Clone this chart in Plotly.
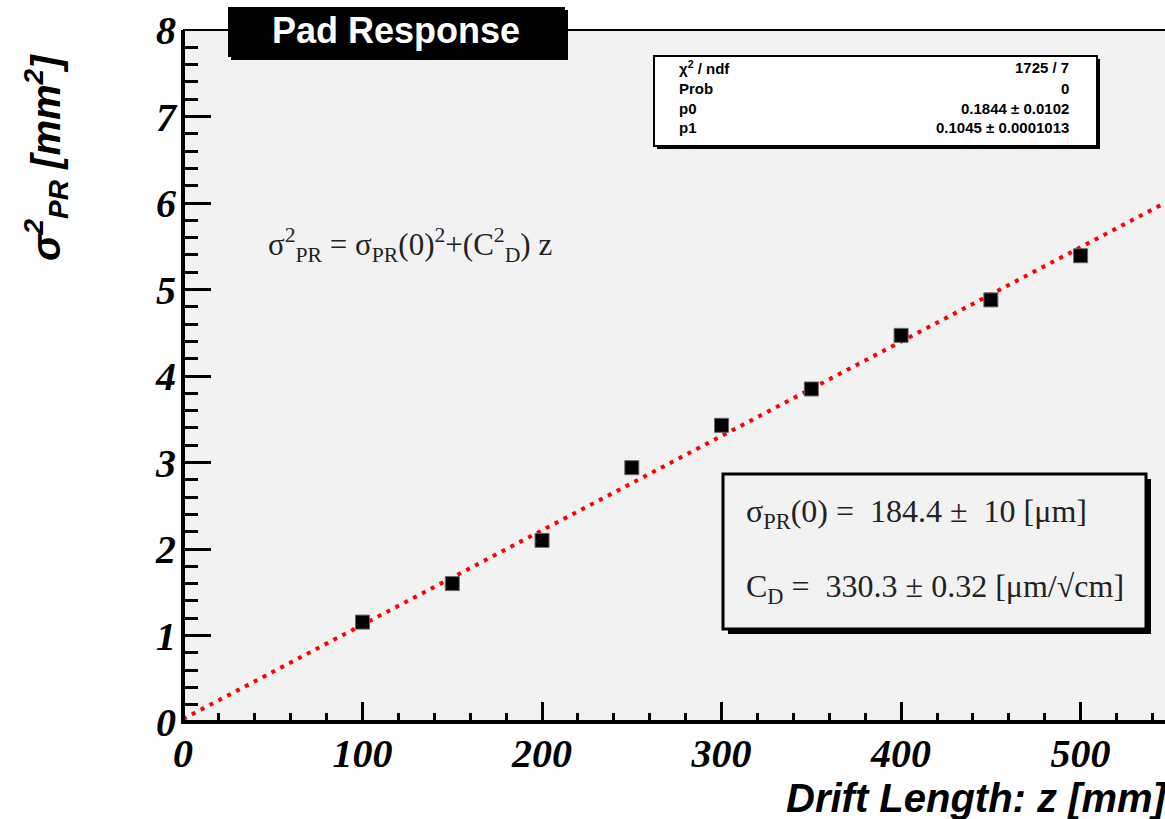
import numpy as np
import plotly.graph_objects as go

# Measured pad-response width squared versus drift length
drift_mm = [100, 150, 200, 250, 300, 350, 400, 450, 500]
sigma2_mm2 = [1.155, 1.60, 2.10, 2.94, 3.43, 3.85, 4.47, 4.88, 5.39]

# Fit results
sigma0_um = 184.4
sigma0_err_um = 10
cd_um = 330.3
cd_err_um = 0.32
chi2_ndf = "1725 / 7"
prob = "0"
p0_txt = "0.1844 ± 0.0102"
p1_txt = "0.1045 ± 0.0001013"

x_range = [0, 547]
y_range = [0, 8]

W_FIG, H_FIG = 1165, 819
L, T, R, B = 183, 30, 0, 97
PW = W_FIG - L - R
PH = H_FIG - T - B


def px(xp):
    return (xp - L) / PW


def py(yp):
    return (H_FIG - B - yp) / PH


# Fit line: sigma^2 = sigma0^2 + C_D^2 * z  (sigma in mm, C_D in mm/sqrt(cm), z in cm)
z_line = np.linspace(x_range[0], x_range[1], 200)
fit_line = (sigma0_um / 1000) ** 2 + (cd_um / 1000) ** 2 * z_line / 10

fig = go.Figure()
fig.add_trace(go.Scatter(
    x=z_line, y=fit_line, mode="lines",
    line=dict(color="#ff0000", width=4, dash="4px,6px"),
    hoverinfo="skip", showlegend=False,
))
fig.add_trace(go.Scatter(
    x=drift_mm, y=sigma2_mm2, mode="markers",
    marker=dict(symbol="square", size=14, color="black",
                line=dict(color="#666666", width=1)),
    showlegend=False,
))

tick_font = dict(family="Liberation Serif", size=40, color="black",
                 weight="bold", style="italic")

fig.update_xaxes(
    range=x_range, dtick=100, tick0=0,
    ticks="inside", ticklen=20, tickwidth=3, tickcolor="black",
    minor=dict(dtick=20, ticklen=9, tickwidth=3, tickcolor="black", ticks="inside"),
    showline=False, showgrid=False, zeroline=False, tickfont=tick_font,
    ticklabelstandoff=4,
)
fig.update_yaxes(
    range=y_range, dtick=1, tick0=0,
    ticks="inside", ticklen=28, tickwidth=3, tickcolor="black",
    minor=dict(dtick=0.2, ticklen=15, tickwidth=3, tickcolor="black", ticks="inside"),
    showline=False, showgrid=False, zeroline=False, tickfont=tick_font,
    ticklabelstandoff=6,
)

shapes = []
# frame: thick left and bottom axes, thin top line
shapes.append(dict(type="line", xref="paper", yref="paper", x0=0, x1=0, y0=-0.003, y1=1.0,
                   line=dict(color="black", width=4), layer="above"))
shapes.append(dict(type="line", xref="paper", yref="paper", x0=-0.002, x1=1.01, y0=0, y1=0,
                   line=dict(color="black", width=4), layer="above"))
shapes.append(dict(type="line", xref="paper", yref="paper", x0=0, x1=1.01, y0=1, y1=1,
                   line=dict(color="black", width=2), layer="above"))
# title box with shadow
shapes.append(dict(type="rect", xref="paper", yref="paper",
                   x0=px(231), x1=px(568), y0=py(60), y1=py(10),
                   fillcolor="black", line=dict(width=0), layer="above"))
shapes.append(dict(type="rect", xref="paper", yref="paper",
                   x0=px(228), x1=px(565), y0=py(57), y1=py(7),
                   fillcolor="black", line=dict(width=0), layer="above"))
# stats box with shadow
shapes.append(dict(type="rect", xref="paper", yref="paper",
                   x0=px(657), x1=px(1100), y0=py(149), y1=py(59),
                   fillcolor="black", line=dict(width=0), layer="above"))
shapes.append(dict(type="rect", xref="paper", yref="paper",
                   x0=px(654), x1=px(1097), y0=py(146), y1=py(56),
                   fillcolor="white", line=dict(color="black", width=2), layer="above"))
# result box with shadow
shapes.append(dict(type="rect", xref="paper", yref="paper",
                   x0=px(728), x1=px(1151), y0=py(634), y1=py(479),
                   fillcolor="black", line=dict(width=0), layer="above"))
shapes.append(dict(type="rect", xref="paper", yref="paper",
                   x0=px(723), x1=px(1146), y0=py(629), y1=py(474),
                   fillcolor="#f2f2f2", line=dict(color="black", width=3), layer="above"))

ann = []
ann.append(dict(text="Pad Response", x=px(396), y=py(31), xref="paper", yref="paper",
                showarrow=False, xanchor="center", yanchor="middle",
                font=dict(family="Liberation Sans", size=36, color="white", weight="bold")))

stats_font = dict(family="Liberation Sans", size=15, color="black", weight="bold")
rows = [("χ<sup>2</sup> / ndf", chi2_ndf), ("Prob", prob), ("p0", p0_txt), ("p1", p1_txt)]
row_y = [68, 88, 108, 128]
for (lab, val), yy in zip(rows, row_y):
    ann.append(dict(text=lab, x=px(677), y=py(yy), xref="paper", yref="paper",
                    showarrow=False, xanchor="left", yanchor="middle", font=stats_font))
    ann.append(dict(text=val, x=px(1071), y=py(yy), xref="paper", yref="paper",
                    showarrow=False, xanchor="right", yanchor="middle", font=stats_font))

serif = dict(family="Liberation Serif", size=31, color="#222222")
ann.append(dict(text="σ<sup>2</sup><sub>PR</sub> = σ<sub>PR</sub>(0)<sup>2</sup>+(C<sup>2</sup><sub>D</sub>) z",
                x=px(266), y=py(245), xref="paper", yref="paper",
                showarrow=False, xanchor="left", yanchor="middle", font=serif))
serif_box = dict(family="Liberation Serif", size=32, color="#222222")
ann.append(dict(text=f"σ<sub>PR</sub>(0) =  {sigma0_um} ±  {sigma0_err_um} [μm]",
                x=px(744), y=py(513), xref="paper", yref="paper",
                showarrow=False, xanchor="left", yanchor="middle", font=serif_box))
ann.append(dict(text=f"C<sub>D</sub> =  {cd_um} ± {cd_err_um} [μm/√cm]",
                x=px(744), y=py(588), xref="paper", yref="paper",
                showarrow=False, xanchor="left", yanchor="middle", font=serif_box))

title_font = dict(family="Liberation Sans", size=40, color="black",
                  weight="bold", style="italic")
ann.append(dict(text="Drift Length: z [mm]", x=px(1170), y=py(798),
                xref="paper", yref="paper", showarrow=False,
                xanchor="right", yanchor="middle", font=title_font))
ann.append(dict(text="σ<sup>2</sup><sub>PR</sub> [mm<sup>2</sup>]", x=px(46), y=py(158),
                xref="paper", yref="paper", showarrow=False, textangle=-90,
                xanchor="center", yanchor="middle", font=title_font))

fig.update_layout(
    width=W_FIG, height=H_FIG,
    margin=dict(l=L, r=R, t=T, b=B, pad=0),
    paper_bgcolor="white", plot_bgcolor="#f2f2f2",
    shapes=shapes, annotations=ann, showlegend=False,
)

fig.write_html("out.html")
